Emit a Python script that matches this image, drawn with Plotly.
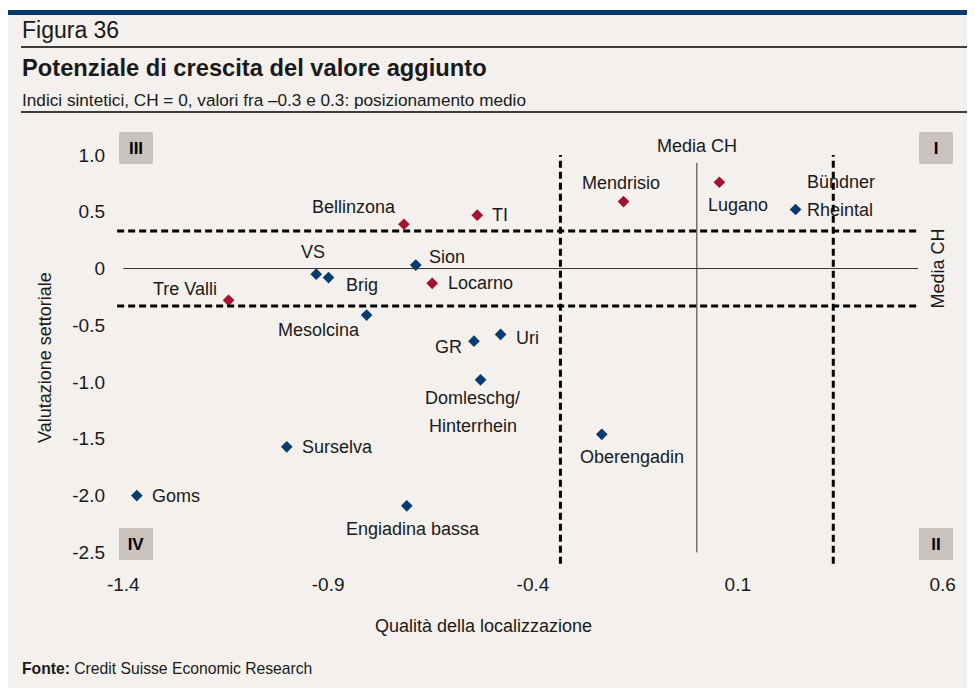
import plotly.graph_objects as go

# ---------------- data ----------------
regions = ["Goms", "Surselva", "Engiadina bassa", "Mesolcina", "VS", "Brig", "Sion",
           "Bellinzona", "TI", "Locarno", "Tre Valli", "GR", "Uri",
           "Domleschg/<br>Hinterrhein", "Oberengadin", "Mendrisio", "Lugano",
           "Bündner<br>Rheintal"]
qualita = [-1.367, -1.001, -0.708, -0.806, -0.929, -0.899, -0.686,
           -0.715, -0.536, -0.646, -1.143, -0.544, -0.479,
           -0.528, -0.232, -0.179, 0.055, 0.241]
valutazione = [-2.00, -1.57, -2.09, -0.41, -0.05, -0.08, 0.03,
               0.39, 0.47, -0.13, -0.28, -0.64, -0.58,
               -0.98, -1.46, 0.59, 0.76, 0.52]
ticino = [False, False, False, False, False, False, False,
          True, True, True, True, False, False,
          False, False, True, True, False]

x_ticks = [-1.4, -0.9, -0.4, 0.1, 0.6]
x_ticktext = ["-1.4", "-0.9", "-0.4", "0.1", "0.6"]
y_ticks = [1.0, 0.5, 0, -0.5, -1.0, -1.5, -2.0, -2.5]
y_ticktext = ["1.0", "0.5", "0", "-0.5", "-1.0", "-1.5", "-2.0", "-2.5"]
media_ch = 0.0
soglie_x = [-0.333, 0.333]
soglie_y = [-0.33, 0.33]

# ---------------- style / layout ----------------
WIN_W, WIN_H = 975, 688
OFF = 8                      # page body margin of the browser
W, H = WIN_W - OFF, WIN_H - OFF
# plot area in window pixel coordinates
PL, PR, PT, PB = 111, 957, 130, 566
FONT = "Liberation Sans, Arial, sans-serif"
TXT = "#1a1a1a"
BG = "#f3f0ed"
BLUE = "#063d6e"
RED = "#a3122f"
BOX = "#c9c2bd"


def pxx(px):
    return (px - PL) / (PR - PL)


def pxy(py):
    return (PB - py) / (PB - PT)


# label placement: anchor, x shift, y shift (px)
label_pos = {
    "Goms": ("left", 13, 0),
    "Surselva": ("left", 13, 0),
    "Engiadina bassa": ("center", 6, -23),
    "Mesolcina": ("right", -5, -15),
    "VS": ("center", -3, 22),
    "Brig": ("left", 15, -7),
    "Sion": ("left", 11, 8),
    "Bellinzona": ("right", -6, 17),
    "TI": ("left", 13, 0),
    "Locarno": ("left", 14, 0),
    "Tre Valli": ("right", -10, 11),
    "GR": ("right", -10, -6),
    "Uri": ("left", 13, -4),
    "Domleschg/<br>Hinterrhein": ("center", -8, -18),
    "Oberengadin": ("center", 30, -23),
    "Mendrisio": ("center", -3, 19),
    "Lugano": ("center", 19, -23),
    "Bündner<br>Rheintal": ("left", 9, 27),
}
LINE_STEP = 28

fig = go.Figure()
for flag, col in [(False, BLUE), (True, RED)]:
    xs = [x for x, f in zip(qualita, ticino) if f == flag]
    ys = [y for y, f in zip(valutazione, ticino) if f == flag]
    fig.add_trace(go.Scatter(
        x=xs, y=ys, mode="markers",
        marker=dict(symbol="diamond", size=9, color=col, line=dict(width=0)),
        showlegend=False, hoverinfo="skip"))

annotations = []
for name, x, y in zip(regions, qualita, valutazione):
    anchor, dx, dy = label_pos[name]
    lines = name.split("<br>")
    for i, ln in enumerate(lines):
        annotations.append(dict(
            x=x, y=y, xref="x", yref="y", text=ln, showarrow=False,
            xanchor=anchor, yanchor="middle", xshift=dx, yshift=dy - i * LINE_STEP,
            font=dict(size=18, color=TXT, family=FONT)))

shapes = []
# reference lines (Media CH)
shapes.append(dict(type="line", xref="x", yref="y", x0=-1.4, x1=0.54, y0=media_ch, y1=media_ch,
                   line=dict(color="#333333", width=1)))
shapes.append(dict(type="line", xref="x", yref="y", x0=media_ch, x1=media_ch, y0=-2.5, y1=0.93,
                   line=dict(color="#333333", width=1)))
for sy in soglie_y:
    shapes.append(dict(type="line", xref="x", yref="y", x0=-1.415, x1=0.54, y0=sy, y1=sy,
                       line=dict(color="black", width=3, dash="7px,4px")))
for sx in soglie_x:
    shapes.append(dict(type="line", xref="x", yref="y", x0=sx, x1=sx, y0=-2.6, y1=1.0,
                       line=dict(color="black", width=3, dash="7px,4px")))

# page decoration
shapes.append(dict(type="rect", xref="paper", yref="paper", x0=pxx(0), x1=pxx(WIN_W + 5), y0=pxy(0), y1=pxy(10),
                   fillcolor="white", line=dict(width=0), layer="below"))
shapes.append(dict(type="rect", xref="paper", yref="paper", x0=pxx(6), x1=pxx(WIN_W + 5), y0=pxy(10), y1=pxy(15),
                   fillcolor="#073a6b", line=dict(width=0)))
for ly in (47, 112):
    shapes.append(dict(type="line", xref="paper", yref="paper", x0=pxx(21), x1=pxx(968), y0=pxy(ly), y1=pxy(ly),
                       line=dict(color="black", width=1.5)))

# quadrant boxes
for lab, bx, by in [("III", 119, 132), ("I", 919, 132), ("IV", 119, 528), ("II", 919, 528)]:
    annotations.append(dict(
        x=pxx(bx), y=pxy(by), xref="paper", yref="paper", text="<b>%s</b>" % lab,
        showarrow=False, xanchor="left", yanchor="top", width=34, height=32,
        bgcolor=BOX, borderpad=0, borderwidth=0, valign="middle", align="center",
        font=dict(size=17, color="black", family=FONT)))

# Media CH labels
annotations.append(dict(x=media_ch, y=pxy(146), xref="x", yref="paper", text="Media CH",
                        showarrow=False, xanchor="center", yanchor="middle",
                        font=dict(size=18, color=TXT, family=FONT)))
annotations.append(dict(x=pxx(938), y=media_ch, xref="paper", yref="y", text="Media CH",
                        showarrow=False, xanchor="center", yanchor="middle", textangle=-90,
                        font=dict(size=18, color=TXT, family=FONT)))

# titles / header / footer
annotations += [
    dict(x=pxx(20), y=pxy(30), xref="paper", yref="paper", text="Figura 36", showarrow=False,
         xanchor="left", yanchor="middle", font=dict(size=23, color=TXT, family=FONT)),
    dict(x=pxx(20), y=pxy(68), xref="paper", yref="paper", text="<b>Potenziale di crescita del valore aggiunto</b>",
         showarrow=False, xanchor="left", yanchor="middle", font=dict(size=23.7, color=TXT, family=FONT)),
    dict(x=pxx(20), y=pxy(100), xref="paper", yref="paper",
         text="Indici sintetici, CH = 0, valori fra –0.3 e 0.3: posizionamento medio",
         showarrow=False, xanchor="left", yanchor="middle", font=dict(size=17.2, color=TXT, family=FONT)),
    dict(x=pxx(20), y=pxy(668), xref="paper", yref="paper",
         text="<b>Fonte:</b> Credit Suisse Economic Research",
         showarrow=False, xanchor="left", yanchor="middle", font=dict(size=15.7, color=TXT, family=FONT)),
    dict(x=pxx(483), y=pxy(626), xref="paper", yref="paper", text="Qualità della localizzazione",
         showarrow=False, xanchor="center", yanchor="middle", font=dict(size=18, color=TXT, family=FONT)),
    dict(x=pxx(45), y=pxy(358), xref="paper", yref="paper", text="Valutazione settoriale",
         showarrow=False, xanchor="center", yanchor="middle", textangle=-90,
         font=dict(size=18, color=TXT, family=FONT)),
]

fig.update_layout(
    width=W, height=H,
    margin=dict(l=PL - OFF, r=WIN_W - PR, t=PT - OFF, b=WIN_H - PB, pad=0),
    paper_bgcolor=BG, plot_bgcolor=BG,
    font=dict(family=FONT, size=18, color=TXT),
    xaxis=dict(range=[-1.43, 0.635], tickvals=x_ticks, ticktext=x_ticktext,
               showgrid=False, zeroline=False, showline=False, ticks="",
               ticklabelstandoff=5,
               tickfont=dict(size=19, color=TXT), fixedrange=True),
    yaxis=dict(range=[-2.62, 1.22], tickvals=y_ticks, ticktext=y_ticktext,
               showgrid=False, zeroline=False, showline=False, ticks="",
               ticklabelstandoff=5,
               tickfont=dict(size=19, color=TXT), fixedrange=True),
    shapes=shapes, annotations=annotations, showlegend=False,
)

fig.write_html("out.html")
